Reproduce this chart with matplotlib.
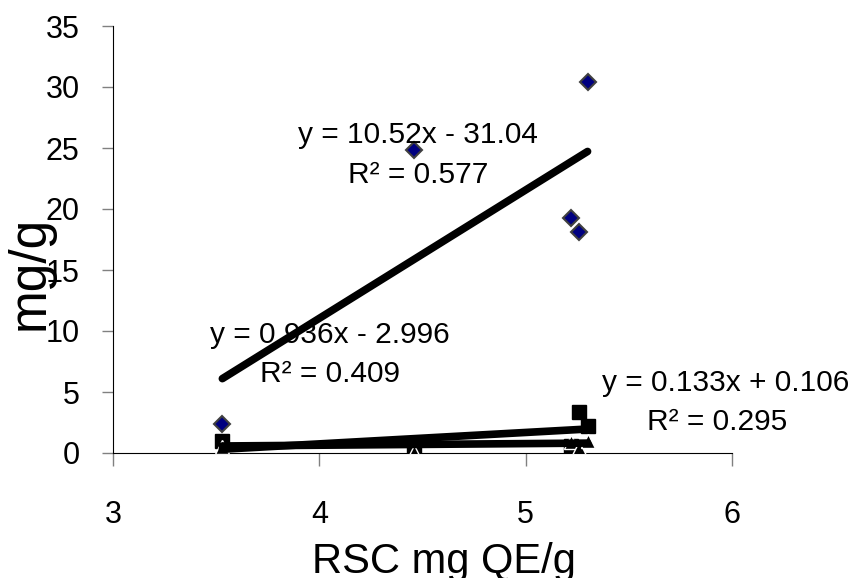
import numpy as np
import matplotlib
matplotlib.use("Agg")
import matplotlib.pyplot as plt

plt.rcParams['font.family'] = ['Liberation Sans', 'DejaVu Sans']

# data
rsc = [3.53, 4.46, 5.22, 5.26, 5.30]
series1 = [2.4, 24.8, 19.3, 18.1, 30.4]   # diamonds
series2 = [1.0, 0.05, 0.6, 3.4, 2.2]      # squares
series3 = [0.5, 0.1, 0.9, 0.4, 1.0]       # triangles

# trendline equations as printed on the chart
slopes = [10.52, 0.936, 0.133]
intercepts = [-31.04, -2.996, 0.106]
r2 = [0.577, 0.409, 0.295]

# label positions (data coords)
eq_pos = [(4.48, 26.1), (4.05, 9.7), (5.97, 5.7)]
r2_pos = [(4.48, 22.8), (4.05, 6.5), (5.93, 2.5)]

fig = plt.figure(figsize=(8.58, 5.78), dpi=100)
ax = fig.add_axes([113/858, 125/578, 619/858, 427/578])

ax.plot(rsc, series1, linestyle="none", marker="D", ms=8.5,
        mfc="#000080", mec="#404040", mew=1.5, zorder=3)
ax.plot(rsc, series2, linestyle="none", marker="s", ms=10,
        mfc="black", mec="black", zorder=3)
ax.plot(rsc, series3, linestyle="none", marker="^", ms=10,
        mfc="black", mec="white", mew=1, zorder=3)

#trendlines
xl = np.array([min(rsc), max(rsc)])
for m, b in zip(slopes, intercepts):
    ax.plot(xl, m*xl + b, color="black", lw=5.5, solid_capstyle="round", zorder=4)

for i in range(3):
    sign = "-" if intercepts[i] < 0 else "+"
    eq = "y = {}x {} {}".format(slopes[i], sign, abs(intercepts[i]))
    ax.text(eq_pos[i][0], eq_pos[i][1], eq, fontsize=21.5, ha="center", va="center", zorder=5)
    ax.text(r2_pos[i][0], r2_pos[i][1], "R² = {}".format(r2[i]), fontsize=21.5,
            ha="center", va="center", zorder=5)

ax.set_xlim(3, 6)
ax.set_ylim(0, 35)
ax.set_xticks([3, 4, 5, 6])
ax.set_yticks(range(0, 36, 5))
ax.spines["top"].set_visible(False)
ax.spines["right"].set_visible(False)
ax.tick_params(axis="x", direction="out", length=9, width=1, labelsize=22, pad=25, colors="#808080", labelcolor="black")
ax.tick_params(axis="y", direction="out", length=8, width=1, labelsize=22, pad=16, colors="#808080", labelcolor="black")
for sp in ["left", "bottom"]:
    ax.spines[sp].set_color("black")

ax.set_xlabel("RSC mg QE/g", fontsize=30)
ax.xaxis.set_label_coords(0.535, -0.208)
ax.xaxis.label.set_va("top")
fig.text(30/858, 1 - 273/578, "mg/g", fontsize=37, rotation=90, ha="center", va="center")

fig.savefig("out.png", dpi=100)
